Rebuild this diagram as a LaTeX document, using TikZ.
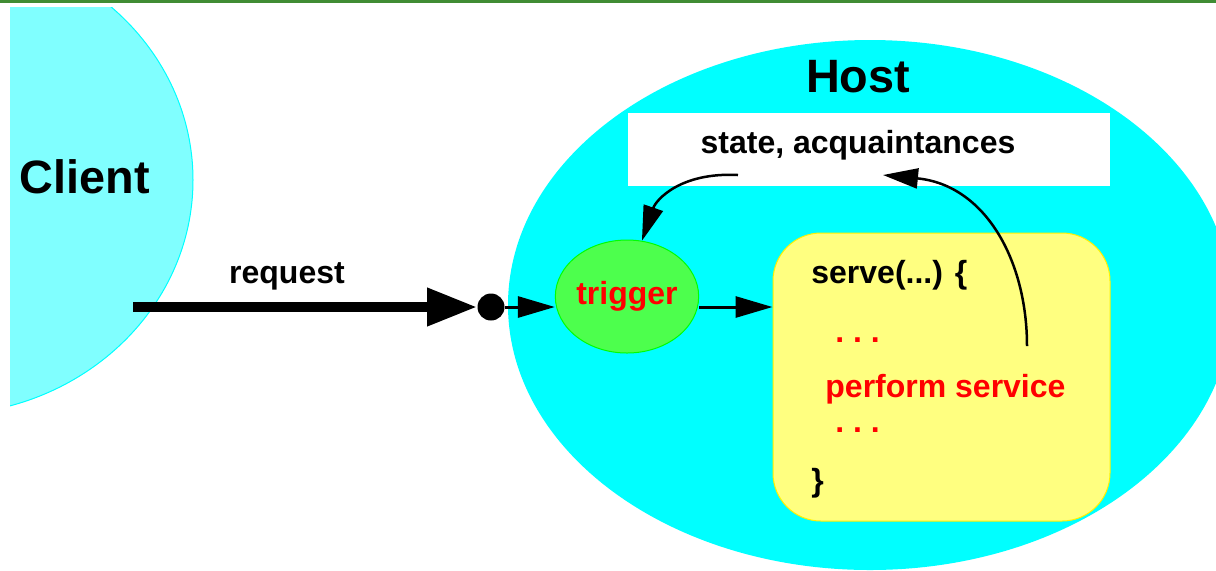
\documentclass[tikz,border=0pt]{standalone}
\usepackage{fontspec}
\setmainfont{Liberation Sans}
\usetikzlibrary{shapes,arrows.meta}
\definecolor{clientcyan}{RGB}{128,255,255}
\definecolor{hostcyan}{RGB}{0,255,255}
\definecolor{trigfill}{RGB}{77,255,77}
\definecolor{codeyellow}{RGB}{255,255,128}
\definecolor{rulegreen}{RGB}{64,140,52}
\tikzstyle{txt}=[inner sep=0pt,
	font=\fontsize{16}{19}\selectfont\bfseries]
\tikzstyle{bigtxt}=[inner sep=0pt,
	font=\fontsize{23.4}{28}\selectfont\bfseries]
\tikzstyle{redtxt}=[txt,
	text=red]
\tikzstyle{client}=[draw=hostcyan,
	line width=0.5pt,
	fill=clientcyan]
\tikzstyle{membox}=[rectangle,
	inner sep=0pt,
	minimum width=241pt,
	minimum height=36.5pt,
	fill=white]
\tikzstyle{codebox}=[rectangle,
	rounded corners=24pt,
	inner sep=0pt,
	minimum width=168.5pt,
	minimum height=144pt,
	line width=0.5pt,
	draw=yellow,
	fill=codeyellow]
\tikzstyle{trig}=[ellipse,
	inner sep=0pt,
	minimum width=70pt,
	minimum height=56.5pt,
	line width=0.5pt,
	draw=green,
	fill=trigfill,
	text=red,
	font=\fontsize{16}{19}\selectfont\bfseries]
\tikzstyle{knob}=[circle,
	inner sep=0pt,
	minimum size=13.5pt,
	fill=black]
\tikzstyle{req}=[line width=5pt,
	-{Triangle[length=25pt,width=18pt]}]
\tikzstyle{flow}=[line width=1.5pt,
	-{Triangle[length=18.5pt,width=10.5pt]}]
\tikzstyle{curvy}=[line width=1.25pt,
	-{Triangle[length=17.5pt,width=10pt]}]

\begin{document}
\begin{tikzpicture}[x=0.5pt,y=-0.5pt]
	\useasboundingbox (0,0) rectangle (1216,570);
	\clip (0,0) rectangle (1216,570);
	\fill[rulegreen] (0,0) rectangle (1216,2.5);

	\begin{scope}
		\clip (10,7) rectangle (400,570);
		\draw[client] (-60,180) ellipse [x radius=253, y radius=235];
	\end{scope}
	\node (client) [bigtxt, anchor=base] at (85,193) {Client};

	\fill[hostcyan] (870,305) ellipse [x radius=362, y radius=265];
	\node (host) [bigtxt, anchor=base] at (858,92) {Host};

	\node (mem) [membox] at (869,149.5) {};
	\node (memtxt) [txt, anchor=base] at (858,153) {state, acquaintances};

	\node (serve) [codebox] at (941.5,377) {};
	\node (head) [txt, anchor=base west] at (811,283) {serve(...) \{};
	\node (dotsa) [redtxt, anchor=base west] at (835,342) {.\ .\ .};
	\node (perform) [redtxt, anchor=base west] at (825,397) {perform service};
	\node (dotsb) [redtxt, anchor=base west] at (835,432) {.\ .\ .};
	\node (tail) [txt, anchor=base west] at (811,491) {\}};

	\node (trigger) [trig] at (627,296.5) {trigger};

	\coordinate (reqstart) at (133,307);
	\node (knob) [knob] at (491,307) {};
	\node (reqtxt) [txt, anchor=base] at (287,283) {request};
	\draw[req] (reqstart) -- (knob.west);
	\draw[flow] (knob) -- (knob -| trigger.west);
	\draw[flow] (knob -| trigger.east) -- (knob -| serve.west);

	\coordinate (fetch) at (738,175);
	\draw[curvy] (fetch) .. controls (680,172) and (656,200) .. (trigger.75);
	\coordinate (work) at (1027,346);
	\coordinate (update) at (883,175);
	\draw[curvy] (work) .. controls (1027,260) and (985,185) .. (update);
\end{tikzpicture}
\end{document}
